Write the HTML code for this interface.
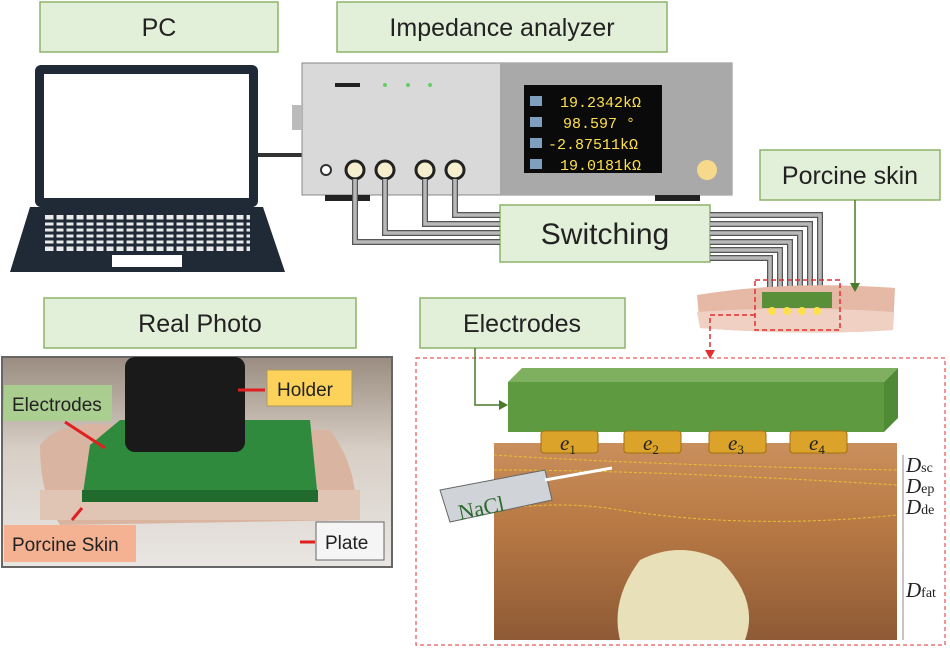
<!DOCTYPE html>
<html><head><style>body{margin:0;background:#fff}svg{display:block;font-family:"Liberation Sans",sans-serif}</style></head><body>
<svg width="950" height="648" viewBox="0 0 950 648" xmlns="http://www.w3.org/2000/svg">
<defs>
<linearGradient id="sk" x1="0" y1="0" x2="0" y2="1"><stop offset="0" stop-color="#c98f5c"/><stop offset="0.4" stop-color="#b97a45"/><stop offset="1" stop-color="#8e5a35"/></linearGradient>
<linearGradient id="ph" x1="0" y1="0" x2="0" y2="1"><stop offset="0" stop-color="#9a8c80"/><stop offset="0.45" stop-color="#d8cfc6"/><stop offset="1" stop-color="#e9e6e3"/></linearGradient>
</defs>
<g fill="#e2efd9" stroke="#8db36a" stroke-width="1.5">
<rect x="40" y="2" width="238" height="50"/><rect x="337" y="2" width="330" height="50"/>
<rect x="760" y="150" width="180" height="50"/><rect x="500" y="205" width="210" height="57"/>
<rect x="44" y="298" width="312" height="50"/><rect x="420" y="298" width="205" height="50"/>
</g>
<g font-size="25" fill="#222" text-anchor="middle">
<text x="159" y="36">PC</text><text x="502" y="36">Impedance analyzer</text>
<text x="850" y="184">Porcine skin</text><text x="605" y="244" font-size="30">Switching</text>
<text x="200" y="332">Real Photo</text><text x="522" y="332">Electrodes</text>
</g>
<!-- laptop -->
<rect x="35" y="65" width="223" height="142" rx="6" fill="#1f2a36"/>
<rect x="44" y="74" width="205" height="124" fill="#fff"/>
<path d="M30 207 H263 L285 272 H10 Z" fill="#1f2a36"/>
<rect x="45" y="215" width="205" height="36" fill="#fff" opacity="0.9"/>
<g stroke="#1f2a36" stroke-width="3">
<path d="M45 221H250M45 227H250M45 233H250M45 239H250M45 245H250"/>
<path d="M55 213V253M65 213V253M75 213V253M85 213V253M95 213V253M105 213V253M115 213V253M125 213V253M135 213V253M145 213V253M155 213V253M165 213V253M175 213V253M185 213V253M195 213V253M205 213V253M215 213V253M225 213V253M235 213V253M245 213V253"/>
</g>
<rect x="112" y="255" width="70" height="12" fill="#fff"/>
<line x1="258" y1="155" x2="302" y2="155" stroke="#333" stroke-width="4"/>
<!-- analyzer -->
<rect x="302" y="63" width="430" height="132" fill="#d9d9d9" stroke="#888"/>
<rect x="500" y="63" width="232" height="132" fill="#a9a9a9"/>
<rect x="292" y="105" width="10" height="25" fill="#bbb"/>
<rect x="335" y="83" width="25" height="4" fill="#222"/>
<circle cx="385" cy="85" r="2" fill="#6c6"/><circle cx="408" cy="85" r="2" fill="#6c6"/><circle cx="430" cy="85" r="2" fill="#6c6"/>
<rect x="524" y="85" width="138" height="88" fill="#0a0a0a"/>
<g fill="#ffe04a" font-family="Liberation Mono, monospace" font-size="15"><text x="560" y="107">19.2342kΩ</text><text x="563" y="128">98.597 °</text><text x="548" y="149">-2.87511kΩ</text><text x="560" y="170">19.0181kΩ</text></g>
<g fill="#7f9fbf"><rect x="530" y="96" width="12" height="10"/><rect x="530" y="117" width="12" height="10"/><rect x="530" y="138" width="12" height="10"/><rect x="530" y="159" width="12" height="10"/></g>
<circle cx="707" cy="170" r="10" fill="#f7d98b"/>
<rect x="325" y="195" width="45" height="6" fill="#222"/><rect x="655" y="195" width="45" height="6" fill="#222"/>
<circle cx="326" cy="170" r="5" fill="#fff" stroke="#333" stroke-width="2"/>
<g fill="#f6efcf" stroke="#222" stroke-width="3"><circle cx="355" cy="170" r="9"/><circle cx="385" cy="170" r="9"/><circle cx="425" cy="170" r="9"/><circle cx="455" cy="170" r="9"/></g>
<!-- cables -->
<g fill="none" stroke="#555" stroke-width="6"><path d="M355 179V242H500M385 179V233H500M425 179V224H500M455 179V215H500"/><path d="M710 215H820V292M710 224H810V292M710 233H800V292M710 242H790V292M710 250H780V292M710 258H770V292"/></g>
<g fill="none" stroke="#b8b8b8" stroke-width="3.5"><path d="M355 179V242H500M385 179V233H500M425 179V224H500M455 179V215H500"/><path d="M710 215H820V292M710 224H810V292M710 233H800V292M710 242H790V292M710 250H780V292M710 258H770V292"/></g>
<!-- porcine skin -->
<path d="M697 295 Q790 280 895 288 L893 330 Q800 336 700 328 Z" fill="#e6b8a6"/>
<path d="M697 312 Q790 305 893 312 L893 330 Q800 336 700 328Z" fill="#efd0c3"/>
<rect x="762" y="292" width="70" height="16" fill="#5a8f3a"/>
<g fill="#ffe04a"><circle cx="772" cy="311" r="4"/><circle cx="787" cy="311" r="4"/><circle cx="802" cy="311" r="4"/><circle cx="817" cy="311" r="4"/></g>
<rect x="755" y="280" width="85" height="50" fill="none" stroke="#e03030" stroke-dasharray="5,3" stroke-width="1.5"/>
<path d="M855 200V285" stroke="#4a7a2a" stroke-width="1.5"/><path d="M850 283L855 292L860 283Z" fill="#4a7a2a"/>
<path d="M755 315H710V352" fill="none" stroke="#e03030" stroke-width="1.5" stroke-dasharray="5,3"/><path d="M705 350L710 359L715 350Z" fill="#e03030"/>
<!-- real photo -->
<rect x="2" y="357" width="390" height="210" fill="url(#ph)" stroke="#666" stroke-width="2"/>
<path d="M40 445 Q60 420 110 425 L330 430 Q360 470 355 520 L60 525 Q40 495 40 445Z" fill="#d9b4a0"/>
<rect x="40" y="490" width="320" height="30" fill="#e0c4b4"/>
<path d="M90 445 L120 420 H310 L318 500 H82Z" fill="#2f8a3e"/>
<rect x="82" y="490" width="236" height="12" fill="#1f6a2c"/>
<rect x="125" y="357" width="120" height="95" rx="10" fill="#1a1a1a"/>
<g font-size="19" fill="#222">
<rect x="4" y="385" width="108" height="36" fill="#a9d18e" opacity="0.9"/><text x="12" y="411">Electrodes</text>
<rect x="267" y="370" width="85" height="36" fill="#fcd25a" stroke="#aa9a60"/><text x="277" y="396">Holder</text>
<rect x="4" y="525" width="132" height="37" fill="#f4b293"/><text x="12" y="551">Porcine Skin</text>
<rect x="316" y="522" width="68" height="38" fill="#f5f5f5" stroke="#666"/><text x="325" y="549">Plate</text>
</g>
<g stroke="#e02020" stroke-width="3"><path d="M265 390H238M65 422L105 448M72 520L82 508M315 542H300"/></g>
<!-- detail -->
<rect x="416" y="358" width="529" height="287" fill="none" stroke="#e03030" stroke-dasharray="4,3"/>
<path d="M475 348V405H505" fill="none" stroke="#4a7a2a" stroke-width="1.5"/><path d="M499 400L508 405L499 410Z" fill="#4a7a2a"/>
<rect x="494" y="443" width="403" height="197" fill="url(#sk)"/>
<path d="M640 560 Q680 540 720 560 Q760 600 745 640 H620 Q610 600 640 560Z" fill="#e8e0b8"/>
<path d="M494 455 Q650 465 897 470M494 470 Q650 470 897 485M494 510 Q560 500 620 510 Q750 530 897 515" fill="none" stroke="#e8c030" stroke-dasharray="3,2"/>
<path d="M508 382 L522 368 H898 L884 382Z" fill="#7fb05f"/><path d="M884 382 L898 368 V418 L884 432Z" fill="#4f8a35"/>
<rect x="508" y="382" width="376" height="50" fill="#5e9a40"/>
<g fill="#dca32a" stroke="#a07010"><rect x="541" y="431" width="57" height="22" rx="3"/><rect x="624" y="431" width="57" height="22" rx="3"/><rect x="709" y="431" width="57" height="22" rx="3"/><rect x="790" y="431" width="57" height="22" rx="3"/></g>
<g font-family="Liberation Serif, serif" font-style="italic" font-size="21" fill="#222"><text x="560" y="450">e<tspan font-size="13" font-style="normal" dy="4">1</tspan></text><text x="643" y="450">e<tspan font-size="13" font-style="normal" dy="4">2</tspan></text><text x="728" y="450">e<tspan font-size="13" font-style="normal" dy="4">3</tspan></text><text x="809" y="450">e<tspan font-size="13" font-style="normal" dy="4">4</tspan></text>
<text x="906" y="472">D<tspan font-size="14" font-style="normal">sc</tspan></text><text x="906" y="493">D<tspan font-size="14" font-style="normal">ep</tspan></text><text x="906" y="514">D<tspan font-size="14" font-style="normal">de</tspan></text><text x="906" y="597">D<tspan font-size="14" font-style="normal">fat</tspan></text></g>
<path d="M903 455V640" stroke="#889" stroke-width="1"/>
<path d="M440 490 L545 470 L552 500 L450 522Z" fill="#d0d4d8" stroke="#666"/><path d="M545 480 L612 468" stroke="#fff" stroke-width="3"/>
<text x="460" y="520" font-family="Liberation Serif, serif" font-size="22" fill="#2a6a2a" transform="rotate(-12 460 520)">NaCl</text>
</svg>
</body></html>
